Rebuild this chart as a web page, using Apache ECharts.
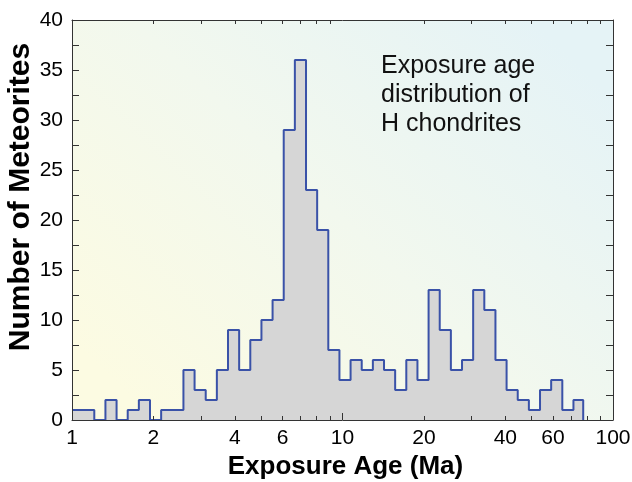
<!DOCTYPE html>
<html>
<head>
<meta charset="utf-8">
<script src="https://cdn.jsdelivr.net/npm/echarts@6/dist/echarts.min.js"></script>
<style>
  html, body { margin: 0; padding: 0; background: #fff; }
  #chart { width: 632px; height: 482px; }
</style>
</head>
<body>
<div id="chart"></div>
<script>
// histogram bins: log-spaced, each edge = previous * binRatio
const binStart = 1;
const binRatio = 1.0995;
const lastEdge = 77.6;
const counts = [1, 1, 0, 2, 0, 1, 2, 0, 1, 1, 5, 3, 2, 5, 9, 5, 8, 10, 12, 29,
  36, 23, 19, 7, 4, 6, 5, 6, 5, 3, 6, 4, 13, 9, 5, 6, 13, 11, 6, 3,
  2, 1, 3, 4, 1, 2];

const xLabels = [1, 2, 4, 6, 10, 20, 40, 60, 100];
const xMinorTicks = [2, 3, 4, 5, 6, 7, 8, 9, 20, 30, 40, 50, 60, 70, 80, 90];
const xMajorTicks = [10];
const yTitle = 'Number of Meteorites';
const noteLines = ['Exposure age', 'distribution of', 'H chondrites'];

// step outline points
const stepData = [];
counts.forEach((c, i) => {
  stepData.push([binStart * Math.pow(binRatio, i), c]);
});
stepData.push([lastEdge, counts[counts.length - 1]]);
stepData.push([lastEdge, 0]);

const font = '"Liberation Sans", Arial, sans-serif';
const axisColor = '#333';

const myChart = echarts.init(document.getElementById('chart'));
const option = {
  animation: false,
  grid: {
    left: 72, right: 19, top: 20, bottom: 62,
    outerBoundsMode: 'none',
    containLabel: false,
    show: true,
    borderWidth: 0,
    backgroundColor: new echarts.graphic.LinearGradient(0.15, 1, 0.85, 0, [
      { offset: 0, color: '#fcfbe2' },
      { offset: 0.5, color: '#f2f8ee' },
      { offset: 1, color: '#e5f3f6' }
    ])
  },
  xAxis: [
    {
      type: 'log', min: 1, max: 100, logBase: 10, position: 'bottom', z: 5,
      name: 'Exposure Age (Ma)', nameLocation: 'middle', nameGap: 33,
      nameTextStyle: { fontFamily: font, fontSize: 26, fontWeight: 'bold', color: '#000', padding: [0, 0, 0, 6] },
      axisLine: { show: true, lineStyle: { color: axisColor, width: 1 } },
      axisTick: { show: true, inside: true, length: 4, customValues: xMinorTicks, lineStyle: { color: axisColor } },
      axisLabel: { show: true, customValues: xLabels, fontFamily: font, fontSize: 21, color: '#000', margin: 8 },
      splitLine: { show: false },
      minorTick: { show: false }
    },
    {
      type: 'log', min: 1, max: 100, logBase: 10, position: 'bottom', z: 5,
      axisLine: { show: false },
      axisTick: { show: true, inside: true, length: 7, customValues: xMajorTicks, lineStyle: { color: axisColor } },
      axisLabel: { show: false },
      splitLine: { show: false }
    },
    {
      type: 'log', min: 1, max: 100, logBase: 10, position: 'top', z: 5,
      axisLine: { show: true, lineStyle: { color: axisColor, width: 1 } },
      axisTick: { show: true, inside: true, length: 4, customValues: xMinorTicks, lineStyle: { color: axisColor } },
      axisLabel: { show: false },
      splitLine: { show: false }
    }
  ],
  yAxis: [
    {
      type: 'value', min: 0, max: 40, interval: 5, position: 'left', z: 5,
      axisLine: { show: true, lineStyle: { color: axisColor, width: 1 } },
      axisTick: { show: true, inside: true, length: 7, lineStyle: { color: axisColor } },
      minorTick: { show: true, splitNumber: 2, length: 7, lineStyle: { color: axisColor } },
      axisLabel: { fontFamily: font, fontSize: 21, color: '#000', margin: 9 },
      splitLine: { show: false }
    },
    {
      type: 'value', min: 0, max: 40, interval: 5, position: 'right', z: 5,
      axisLine: { show: true, lineStyle: { color: axisColor, width: 1 } },
      axisTick: { show: true, inside: true, length: 7, lineStyle: { color: axisColor } },
      minorTick: { show: true, splitNumber: 2, length: 7, lineStyle: { color: axisColor } },
      axisLabel: { show: false },
      splitLine: { show: false }
    }
  ],
  graphic: [
    {
      type: 'text', x: 21, y: 197, rotation: Math.PI / 2, z: 10,
      style: {
        text: yTitle,
        font: 'bold 30px ' + font,
        align: 'center',
        verticalAlign: 'middle',
        fill: '#000'
      }
    },
    {
      type: 'text', left: 381, top: 52, z: 10,
      style: {
        text: noteLines.join('\n'),
        font: '25px ' + font,
        lineHeight: 29,
        fill: '#111'
      }
    }
  ],
  series: [
    {
      type: 'line',
      xAxisIndex: 0,
      yAxisIndex: 0,
      step: 'end',
      symbol: 'none',
      data: stepData,
      lineStyle: { color: '#3a52a8', width: 2 },
      areaStyle: { color: '#d6d6d6', opacity: 1 },
      z: 2
    }
  ]
};
myChart.setOption(option);
</script>
</body>
</html>
